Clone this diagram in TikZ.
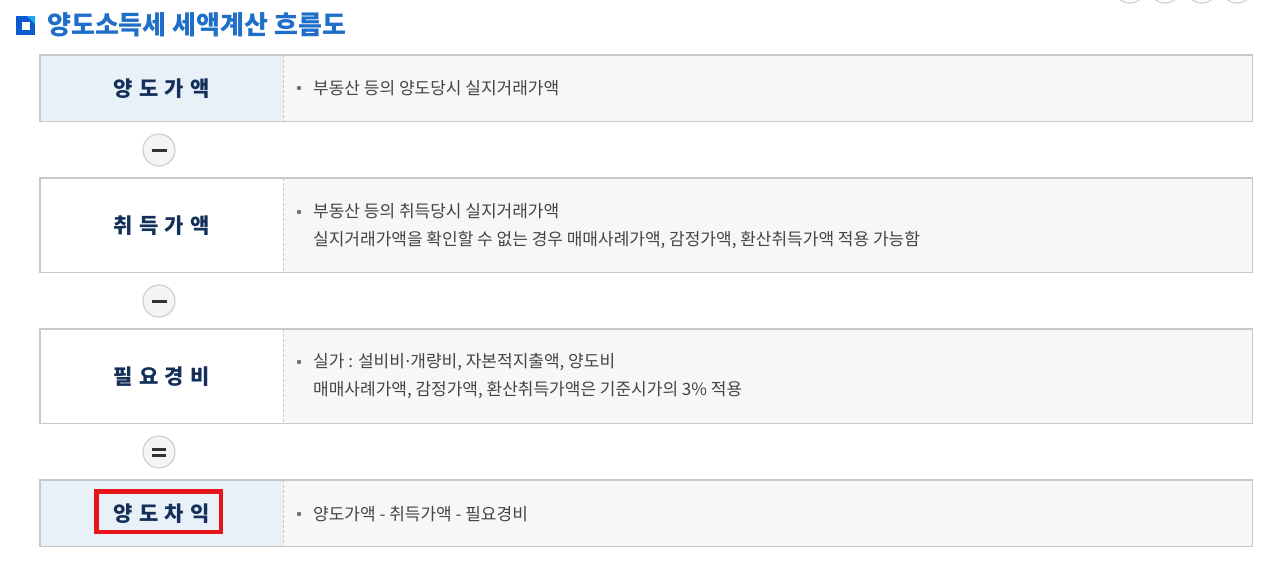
\documentclass[tikz,border=0pt]{standalone}
\usepackage{fontspec}
\setmainfont{Noto Sans CJK KR}
\newfontfamily\dotfont{DejaVu Sans}
\definecolor{titleblue}{HTML}{1F6FCA}
\definecolor{iconblue}{HTML}{0B5AD0}
\definecolor{iconlight}{HTML}{19A6EE}
\definecolor{lblue}{HTML}{E8F0F8}
\definecolor{rgray}{HTML}{F7F7F7}
\definecolor{bordergray}{HTML}{C8C8C8}
\definecolor{navy}{HTML}{14305A}
\definecolor{txtgray}{HTML}{444444}
\definecolor{bulletgray}{HTML}{6A707C}
\definecolor{btnfill}{HTML}{F4F4F4}
\definecolor{btnborder}{HTML}{D0D0D0}
\definecolor{markred}{HTML}{E8141C}
\newcommand\lsp{\hspace{6.2pt}}
\newcommand\ndot{{\dotfont ·}}
\tikzset{
  leftcell/.style={anchor=north west, inner sep=0pt, minimum width=243pt,
    font=\fontsize{21}{24}\selectfont\bfseries, text=navy},
  rightcell/.style={anchor=north west, inner sep=0pt, minimum width=969pt, fill=rgray},
  rowframe/.style={draw=bordergray, line width=1.2pt},
  divider/.style={draw=bordergray, dashed, line width=0.8pt, dash pattern=on 3pt off 2pt},
  desc/.style={anchor=west, inner sep=0pt, align=left, text=txtgray,
    font=\fontsize{17}{28}\selectfont},
  bulletdot/.style={circle, fill=bulletgray, inner sep=0pt, minimum size=4.4pt},
  opbtn/.style={circle, draw=btnborder, fill=btnfill, line width=1.2pt, minimum size=32pt, inner sep=0pt},
  opbar/.style={draw=black!80, line width=3pt},
  topbtn/.style={draw=btnborder, line width=1.2pt},
}
\begin{document}
\begin{tikzpicture}[x=1pt,y=-1pt]
\useasboundingbox (0,0) rectangle (1261,560);
% partial buttons at the very top
\begin{scope}
\clip (0,0) rectangle (1261,560);
\foreach \cx [count=\i] in {1130,1165,1202,1237} {
  \draw[topbtn] (\cx,-13) circle (16pt);
}
\end{scope}
% title icon
\fill[iconblue] (16,16) rectangle (35,35);
\fill[iconlight] (27,16) -- (35,16) -- (35,24) -- cycle;
\fill[white] (22,22) rectangle (29.5,29.5);
\node[anchor=west, inner sep=0pt, text=titleblue, font=\fontsize{26}{30}\selectfont\bfseries] (title) at (47,25) {양도소득세 세액계산 흐름도};

% Row 1
\node[leftcell, fill=lblue, minimum height=66pt] (l1) at (40,55) {양\lsp 도\lsp 가\lsp 액};
\node[rightcell, minimum height=66pt] (r1) at (283,55) {};
\draw[rowframe] (l1.north west) rectangle (r1.south east);
\draw[divider] (l1.north east) -- (l1.south east);
\node[bulletdot] (b1) at (299,88) {};
\node[desc] (d1) at (313,88) {부동산 등의 양도당시 실지거래가액};

% Row 2
\node[leftcell, fill=white, minimum height=94pt] (l2) at (40,178) {취\lsp 득\lsp 가\lsp 액};
\node[rightcell, minimum height=94pt] (r2) at (283,178) {};
\draw[rowframe] (l2.north west) rectangle (r2.south east);
\draw[divider] (l2.north east) -- (l2.south east);
\node[bulletdot] (b2) at (299,212) {};
\node[desc] (d2) at (313,226) {부동산 등의 취득당시 실지거래가액\\실지거래가액을 확인할 수 없는 경우 매매사례가액, 감정가액, 환산취득가액 적용 가능함};

% Row 3
\node[leftcell, fill=white, minimum height=94pt] (l3) at (40,329) {필\lsp 요\lsp 경\lsp 비};
\node[rightcell, minimum height=94pt] (r3) at (283,329) {};
\draw[rowframe] (l3.north west) rectangle (r3.south east);
\draw[divider] (l3.north east) -- (l3.south east);
\node[bulletdot] (b3) at (299,362) {};
\node[desc] (d3) at (313,376) {실가 : 설비비\ndot 개량비, 자본적지출액, 양도비\\매매사례가액, 감정가액, 환산취득가액은 기준시가의 3\% 적용};

% Row 4
\node[leftcell, fill=lblue, minimum height=66pt] (l4) at (40,480) {양\lsp 도\lsp 차\lsp 익};
\node[rightcell, minimum height=66pt] (r4) at (283,480) {};
\draw[rowframe] (l4.north west) rectangle (r4.south east);
\draw[divider] (l4.north east) -- (l4.south east);
\node[bulletdot] (b4) at (299,514) {};
\node[desc] (d4) at (313,514) {양도가액 - 취득가액 - 필요경비};

% operator buttons
\node[opbtn] (op1) at (159,150) {};
\draw[opbar] ([xshift=-7.5pt]op1.center) -- ([xshift=7.5pt]op1.center);
\node[opbtn] (op2) at (159,301) {};
\draw[opbar] ([xshift=-7.5pt]op2.center) -- ([xshift=7.5pt]op2.center);
\node[opbtn] (op3) at (159,452) {};
\draw[opbar] ([xshift=-7pt,yshift=-3pt]op3.center) -- ([xshift=7pt,yshift=-3pt]op3.center);
\draw[opbar] ([xshift=-7pt,yshift=3pt]op3.center) -- ([xshift=7pt,yshift=3pt]op3.center);

% red highlight
\node[draw=markred, line width=4.5pt, minimum width=124.5pt, minimum height=40.5pt, inner sep=0pt] (mark) at (158.5,511.5) {};
\end{tikzpicture}
\end{document}
